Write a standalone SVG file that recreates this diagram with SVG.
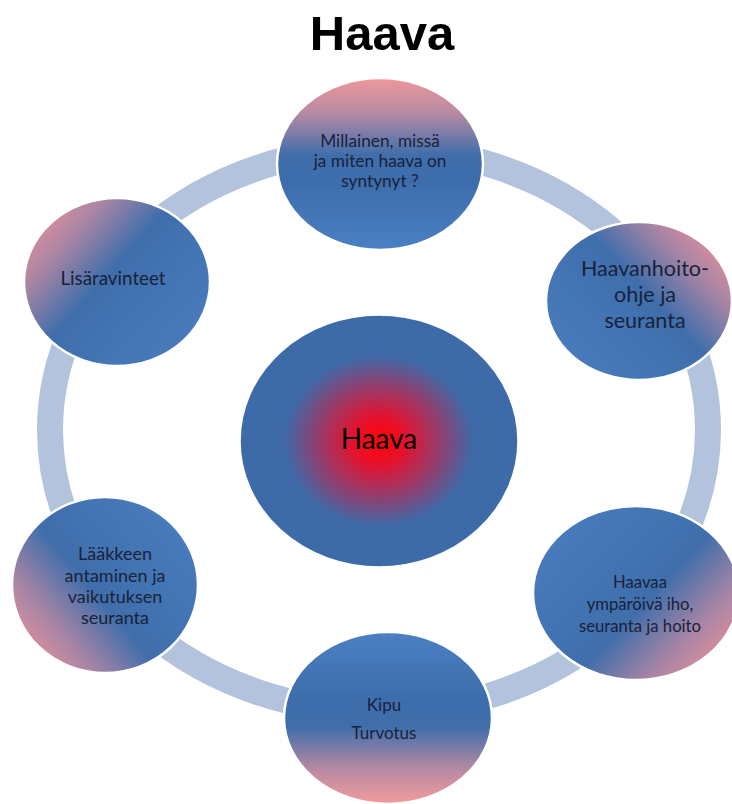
<svg xmlns="http://www.w3.org/2000/svg" width="732" height="804" viewBox="0 0 732 804">
<style>
.t{font-family:Lato,"Open Sans","Liberation Sans",sans-serif;fill:#18223a;text-anchor:middle}
.c{stroke:#ffffff;stroke-width:2.5}
.title{font-family:"Liberation Sans",Arial,sans-serif;font-weight:bold;font-size:49px;fill:#000;text-anchor:middle}
</style>
<defs>
<linearGradient id="gDown" x1="0" y1="0" x2="0" y2="1">
<stop offset="0" stop-color="#ee989c"/>
<stop offset="0.2" stop-color="#b88aa2"/>
<stop offset="0.45" stop-color="#3f6eab"/>
<stop offset="0.6" stop-color="#3d6dab"/>
<stop offset="1" stop-color="#4a80c3"/>
</linearGradient>
<linearGradient id="gUp" x1="0" y1="1" x2="0" y2="0">
<stop offset="0" stop-color="#f29c9c"/>
<stop offset="0.2" stop-color="#b88aa2"/>
<stop offset="0.45" stop-color="#3f6eab"/>
<stop offset="0.6" stop-color="#3d6dab"/>
<stop offset="1" stop-color="#4a80c3"/>
</linearGradient>
<linearGradient id="gUR" x1="1" y1="0.1" x2="0" y2="0.9">
<stop offset="0.05" stop-color="#e2909c"/>
<stop offset="0.22" stop-color="#a985a4"/>
<stop offset="0.45" stop-color="#3f6eab"/>
<stop offset="1" stop-color="#4a7ec0"/>
</linearGradient>
<linearGradient id="gUL" x1="0" y1="0.1" x2="1" y2="0.9">
<stop offset="0.05" stop-color="#e2909c"/>
<stop offset="0.22" stop-color="#a985a4"/>
<stop offset="0.45" stop-color="#3f6eab"/>
<stop offset="1" stop-color="#4a7ec0"/>
</linearGradient>
<linearGradient id="gLL" x1="0" y1="0.9" x2="1" y2="0.1">
<stop offset="0.05" stop-color="#e2909c"/>
<stop offset="0.22" stop-color="#a985a4"/>
<stop offset="0.45" stop-color="#3f6eab"/>
<stop offset="1" stop-color="#4a7ec0"/>
</linearGradient>
<linearGradient id="gLR" x1="1" y1="0.9" x2="0" y2="0.1">
<stop offset="0.05" stop-color="#e2909c"/>
<stop offset="0.22" stop-color="#a985a4"/>
<stop offset="0.45" stop-color="#3f6eab"/>
<stop offset="1" stop-color="#4a7ec0"/>
</linearGradient>
<radialGradient id="gCenter" cx="0.5" cy="0.5" r="0.5">
<stop offset="0" stop-color="#ff0505"/>
<stop offset="0.18" stop-color="#e8102a"/>
<stop offset="0.42" stop-color="#9a3a68"/>
<stop offset="0.68" stop-color="#3e6aa8"/>
<stop offset="1" stop-color="#3c6ba8"/>
</radialGradient>
</defs>
<rect width="732" height="804" fill="#ffffff"/>
<text class="title" x="382" y="50">Haava</text>
<g id="connectors">
<ellipse cx="379" cy="430" rx="329" ry="282" fill="none" stroke="#b3c3de" stroke-width="26"/>
</g>
<g id="center">
<ellipse cx="379" cy="441" rx="139" ry="126" fill="url(#gCenter)" stroke="#ffffff" stroke-width="1.5"/>
<text class="t" x="379" y="449" font-size="28" fill="#000" style="fill:#000">Haava</text>
</g>
<g id="n-top">
<ellipse class="c" cx="380" cy="164" rx="103" ry="86" fill="url(#gDown)"/>
<text class="t" x="380" font-size="17.3"><tspan x="380" y="147">Millainen, missä</tspan><tspan x="380" y="167">ja miten haava on</tspan><tspan x="380" y="187">syntynyt ?</tspan></text>
</g>
<g id="n-right-top">
<ellipse class="c" cx="639" cy="301" rx="93" ry="79" fill="url(#gUR)"/>
<text class="t" font-size="21.5"><tspan x="645" y="276">Haavanhoito-</tspan><tspan x="645" y="302">ohje ja</tspan><tspan x="645" y="328">seuranta</tspan></text>
</g>
<g id="n-right-bottom">
<ellipse class="c" cx="636" cy="593" rx="103" ry="87" fill="url(#gLR)"/>
<text class="t" font-size="16.7"><tspan x="640" y="588">Haavaa</tspan><tspan x="640" y="610">ympäröivä iho,</tspan><tspan x="640" y="632">seuranta ja hoito</tspan></text>
</g>
<g id="n-bottom">
<ellipse class="c" cx="388" cy="718" rx="104" ry="86" fill="url(#gUp)"/>
<text class="t" font-size="17"><tspan x="384" y="711">Kipu</tspan><tspan x="384" y="739">Turvotus</tspan></text>
</g>
<g id="n-left-bottom">
<ellipse class="c" cx="105" cy="585" rx="93" ry="88" fill="url(#gLL)"/>
<text class="t" font-size="18"><tspan x="115" y="560">Lääkkeen</tspan><tspan x="115" y="582">antaminen ja</tspan><tspan x="115" y="603">vaikutuksen</tspan><tspan x="115" y="624">seuranta</tspan></text>
</g>
<g id="n-left-top">
<ellipse class="c" cx="117" cy="282" rx="93" ry="84" fill="url(#gUL)"/>
<text class="t" x="113" y="285" font-size="18.8">Lisäravinteet</text>
</g>
</svg>
